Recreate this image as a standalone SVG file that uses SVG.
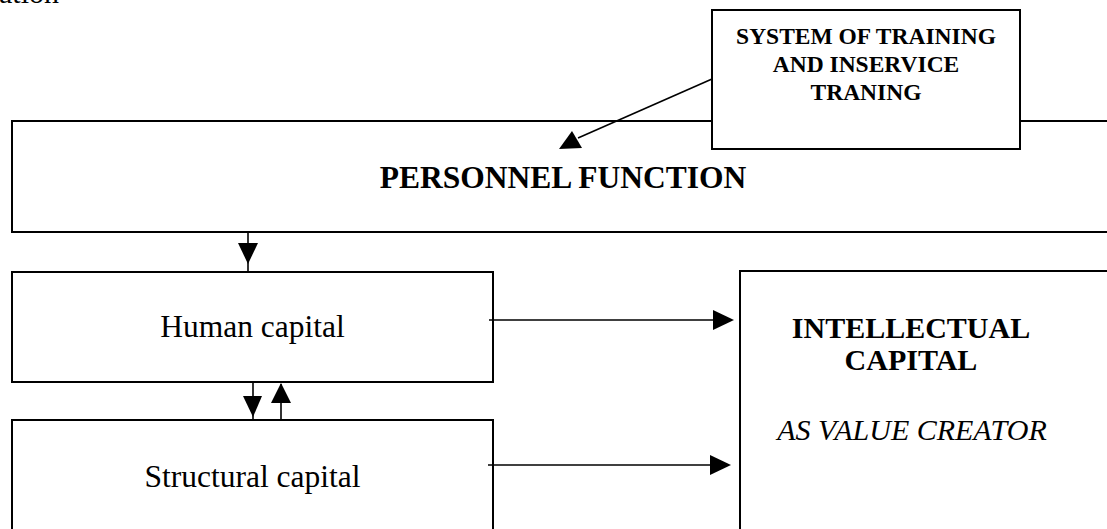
<svg xmlns="http://www.w3.org/2000/svg" width="1107" height="529" viewBox="0 0 1107 529">
<style>
.box{fill:#fff;stroke:#000;stroke-width:2}
.ln{stroke:#000;stroke-width:1.6;fill:none}
.hd{fill:#000}
.b{font-family:"Liberation Serif","Times New Roman",serif;font-weight:bold;fill:#000}
.r{font-family:"Liberation Serif","Times New Roman",serif;fill:#000}
</style>
<rect width="1107" height="529" fill="#fff"/>
<text class="r" x="-1" y="3" font-size="30">ation</text>
<g id="personnel">
<rect class="box" x="12" y="121" width="1110" height="111"/>
<text class="b" x="563" y="188" font-size="31.5" text-anchor="middle">PERSONNEL FUNCTION</text>
</g>
<g id="training">
<rect class="box" x="712" y="10" width="308" height="139"/>
<text class="b" x="866" y="44" font-size="23.5" text-anchor="middle">SYSTEM OF TRAINING</text>
<text class="b" x="866" y="72" font-size="23.5" text-anchor="middle">AND INSERVICE</text>
<text class="b" x="866" y="100" font-size="23.5" text-anchor="middle">TRANING</text>
</g>
<g id="human">
<rect class="box" x="12" y="272" width="481" height="110"/>
<text class="r" x="252.5" y="337" font-size="31.5" text-anchor="middle">Human capital</text>
</g>
<g id="structural">
<rect class="box" x="12" y="420" width="481" height="130"/>
<text class="r" x="252.5" y="487" font-size="31.5" text-anchor="middle">Structural capital</text>
</g>
<g id="intellectual">
<rect class="box" x="740" y="271" width="400" height="280"/>
<text class="b" x="911" y="338" font-size="30" text-anchor="middle">INTELLECTUAL</text>
<text class="b" x="911" y="370" font-size="30" text-anchor="middle">CAPITAL</text>
<text class="r" x="912" y="440" font-size="30" font-style="italic" text-anchor="middle">AS VALUE CREATOR</text>
</g>
<g id="connectors">
<line class="ln" x1="712" y1="79" x2="578" y2="138"/>
<polygon class="hd" points="572,131 559,149 582,148"/>
<line class="ln" x1="248" y1="232" x2="248" y2="271"/>
<polygon class="hd" points="238,243 258,243 248,264"/>
<line class="ln" x1="253" y1="382" x2="253" y2="420"/>
<polygon class="hd" points="243,396 262,396 253,417"/>
<line class="ln" x1="281" y1="384" x2="281" y2="420"/>
<polygon class="hd" points="271,403 291,403 281,383"/>
<line class="ln" x1="489" y1="320" x2="716" y2="320"/>
<polygon class="hd" points="713,310 713,330 734,320"/>
<line class="ln" x1="488" y1="465" x2="712" y2="465"/>
<polygon class="hd" points="710,455 710,475 731,465"/>
</g>
</svg>
